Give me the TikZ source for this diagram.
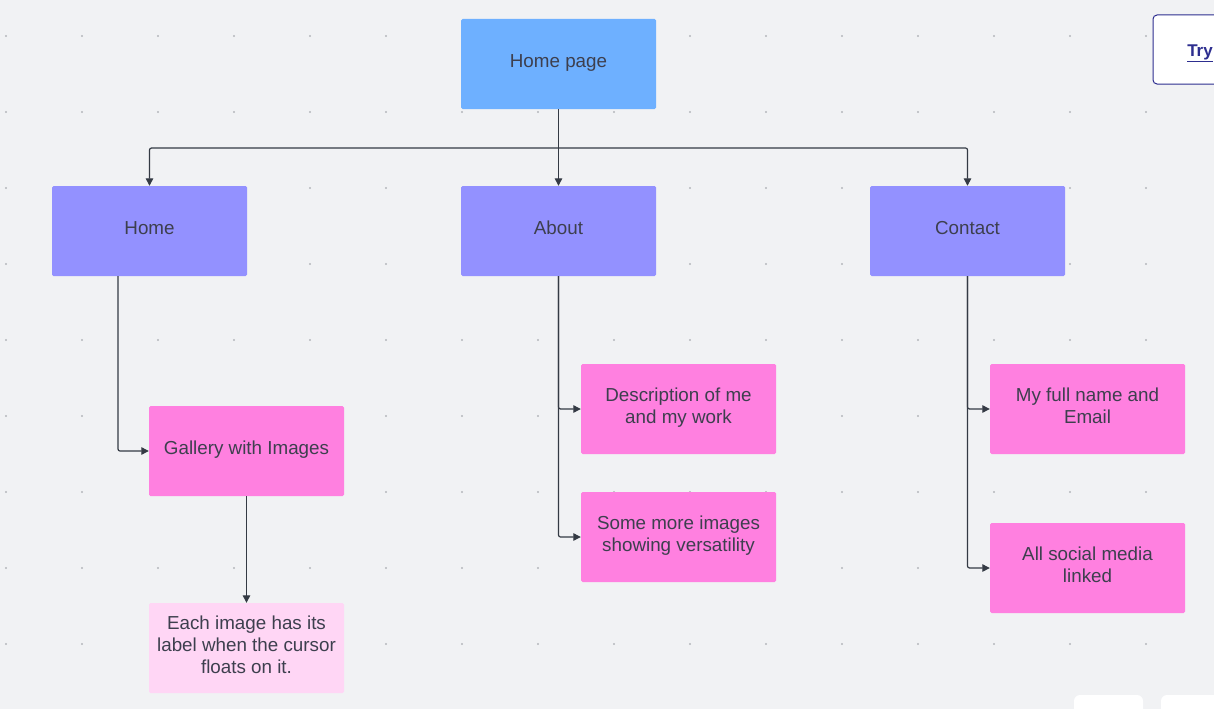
\documentclass[tikz,border=0pt]{standalone}
\usepackage{fontspec}
\setmainfont{Liberation Sans}
\usetikzlibrary{arrows.meta}
\definecolor{bg}{HTML}{F1F2F4}
\definecolor{dotc}{HTML}{B4B6BC}
\definecolor{topc}{HTML}{6EB0FF}
\definecolor{midc}{HTML}{9391FF}
\definecolor{pinkc}{HTML}{FF80E0}
\definecolor{lpinkc}{HTML}{FFD6F5}
\definecolor{txtc}{HTML}{3D3F4E}
\definecolor{linec}{HTML}{343A44}
\definecolor{tryc}{HTML}{2D2E8F}
\newcommand\lstrut{\rule[-7.5pt]{0pt}{22.3pt}}
\tikzset{
  x=1pt, y=-1pt,
  box/.style={rectangle, rounded corners=1.5pt, minimum width=195pt, minimum height=90pt, inner sep=0pt, align=center, text=txtc, font=\fontsize{18.8}{22.3}\selectfont},
  topbox/.style={box, fill=topc},
  midbox/.style={box, fill=midc},
  pinkbox/.style={box, fill=pinkc},
  lpinkbox/.style={box, fill=lpinkc},
  conn/.style={draw=linec, line width=1.2pt, -{Triangle[length=7.5pt,width=7.5pt]}, rounded corners=2pt},
  plain/.style={draw=linec, line width=1.2pt}
}
\begin{document}
\begin{tikzpicture}
\fill[bg] (0,0) rectangle (1214,709);
\useasboundingbox (0,0) rectangle (1214,709);
% grid dots
\foreach \i in {0,...,15} {
  \foreach \j in {0,...,8} {
    \fill[dotc] ({6+76*\i},{36+76*\j}) circle (1.1pt);
  }
}
% nodes
\node[topbox] (hp) at (558.5,64) {\lstrut Home page};
\node[midbox] (home) at (149.5,231) {\lstrut Home};
\node[midbox] (about) at (558.5,231) {\lstrut About};
\node[midbox] (contact) at (967.5,231) {\lstrut Contact};
\node[pinkbox] (gal) at (246.5,451) {\lstrut Gallery with Images};
\node[lpinkbox] (each) at (246.5,648) {\lstrut Each image has its\\\lstrut label when the cursor\\\lstrut floats on it.};
\node[pinkbox] (desc) at (678.5,409) {\lstrut Description of me\\\lstrut and my work};
\node[pinkbox] (more) at (678.5,537) {\lstrut Some more images\\\lstrut showing versatility};
\node[pinkbox] (name) at (1087.5,409) {\lstrut My full name and\\\lstrut Email};
\node[pinkbox] (social) at (1087.5,568) {\lstrut All social media\\\lstrut linked};
% try button and bottom widgets
\node[draw=tryc, line width=1pt, fill=white, rounded corners=4pt, minimum width=80pt, minimum height=69pt, inner sep=0pt] (trybox) at (1193,49.5) {};
\node[text=tryc, font=\bfseries\fontsize{17}{20}\selectfont, inner sep=0pt] (try) at (1200,53) {\underline{Try}};
\fill[white, rounded corners=6pt] (1074,695) rectangle (1143,720);
\fill[white, rounded corners=6pt] (1161,695) rectangle (1230,720);
% connectors
\coordinate (j) at (558.5,148);
\draw[plain] (hp.south) -- (j);
\draw[conn] (j) -| (home.north);
\draw[conn] (j) -- (about.north);
\draw[conn] (j) -| (contact.north);
\draw[conn] (118,276) |- (gal.west);
\draw[conn] (gal.south) -- (each.north);
\draw[conn] (about.south) |- (desc.west);
\draw[conn] (about.south) |- (more.west);
\draw[conn] (contact.south) |- (name.west);
\draw[conn] (contact.south) |- (social.west);
\end{tikzpicture}
\end{document}
